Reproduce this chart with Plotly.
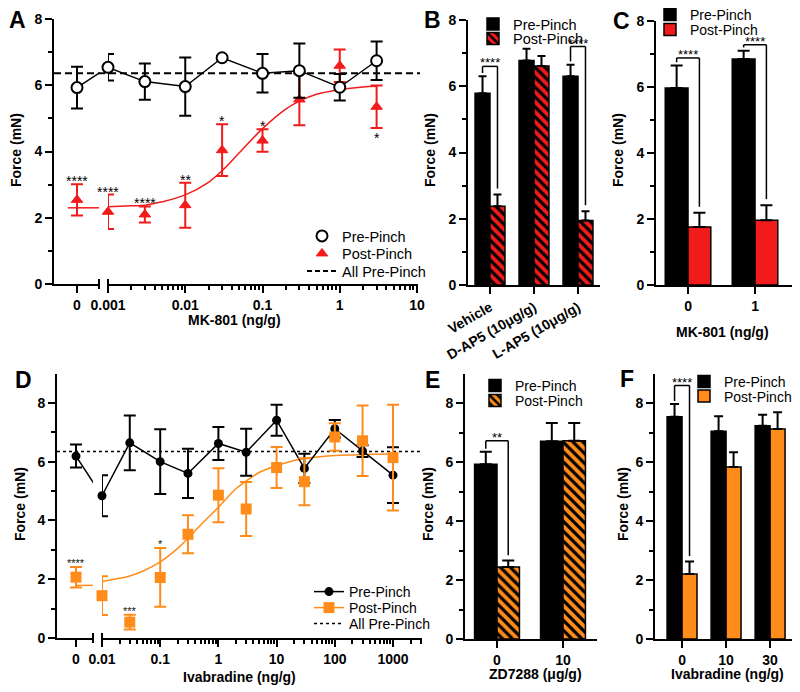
import numpy as np
import plotly.graph_objects as go

# the page body has an 8px margin: the figure is sized and placed to sit in the window
OFF = 8
W, H = 800 - OFF, 692 - OFF
FONT = "Liberation Sans, Arial, Helvetica, sans-serif"
RED = "#f21b1b"
ORANGE = "#ff8c1a"

# ---------------- data ----------------
# Panel A : MK-801 dose response (XY, log axis with a "0" segment)
a_doses = [0.001, 0.003, 0.01, 0.03, 0.1, 0.3, 1, 3]
a_pre_zero, a_pre_zero_err = 5.93, 0.63
a_pre = [6.54, 6.11, 5.96, 6.83, 6.36, 6.44, 5.94, 6.74]
a_pre_err = [0.40, 0.55, 0.88, 0.05, 0.58, 0.82, 0.40, 0.58]
a_post_zero, a_post_zero_err = 2.54, 0.47
a_post = [2.18, 2.10, 2.38, 4.04, 4.33, 5.57, 6.59, 5.35]
a_post_err = [0.52, 0.24, 0.68, 0.78, 0.34, 0.78, 0.49, 0.64]
a_fit_x = [0.001, 0.002, 0.003, 0.005, 0.01, 0.02, 0.03, 0.05, 0.1, 0.2, 0.3, 0.5, 1, 2, 3]
a_fit_y = [2.33, 2.36, 2.38, 2.48, 2.69, 3.07, 3.42, 3.96, 4.69, 5.28, 5.52, 5.73, 5.87, 5.95, 5.97]
a_fit_zero = 2.30
a_all_pre = 6.36
a_star_zero = "****"
a_stars = ["****", "****", "**", "*", "*", "", "", ""]
a_stars_below = ["", "", "", "", "", "", "", "*"]
a_ticks = [0.001, 0.01, 0.1, 1, 10]
a_ticktext = ["0.001", "0.01", "0.1", "1", "10"]

# Panel B : AP5 bars
b_cats = ["Vehicle", "D-AP5 (10\u03bcg/g)", "L-AP5 (10\u03bcg/g)"]
b_pre = [5.79, 6.78, 6.30]
b_pre_err = [0.51, 0.35, 0.35]
b_post = [2.38, 6.61, 1.95]
b_post_err = [0.35, 0.30, 0.28]
b_sig = ["****", "", "****"]

# Panel C : MK-801 bars
c_cats = ["0", "1"]
c_pre = [5.97, 6.85]
c_pre_err = [0.68, 0.25]
c_post = [1.76, 1.96]
c_post_err = [0.43, 0.46]
c_sig = ["****", "****"]

# Panel D : Ivabradine dose response
d_doses = [0.01, 0.03, 0.1, 0.3, 1, 3, 10, 30, 100, 300, 1000]
d_pre_zero, d_pre_zero_err = 6.19, 0.39
d_pre = [4.84, 6.64, 6.00, 5.60, 6.62, 6.32, 7.41, 5.77, 7.12, 6.36, 5.54]
d_pre_err = [0.70, 0.93, 1.10, 0.84, 0.56, 0.80, 0.53, 0.50, 0.30, 0.20, 0.95]
d_post_zero, d_post_zero_err = 2.07, 0.35
d_post = [1.44, 0.54, 2.06, 3.53, 4.86, 4.39, 5.80, 5.32, 6.84, 6.71, 6.14]
d_post_err = [0.66, 0.25, 1.00, 0.65, 0.92, 0.92, 0.70, 0.80, 0.47, 1.20, 1.80]
d_fit_x = [0.01, 0.02, 0.03, 0.05, 0.1, 0.2, 0.3, 0.5, 1, 2, 3, 5, 10, 20, 30, 50, 100, 200, 500, 1000]
d_fit_y = [1.92, 2.03, 2.11, 2.27, 2.59, 3.05, 3.39, 3.85, 4.45, 5.08, 5.34, 5.63, 5.86, 6.04, 6.11, 6.16, 6.21, 6.23, 6.25, 6.26]
d_fit_zero = 1.79
d_all_pre = 6.35
d_star_zero = "****"
d_stars = ["", "***", "*", "", "", "", "", "", "", "", ""]
d_ticks = [0.01, 0.1, 1, 10, 100, 1000]
d_ticktext = ["0.01", "0.1", "1", "10", "100", "1000"]

# Panel E : ZD7288 bars
e_cats = ["0", "10"]
e_pre = [5.92, 6.70]
e_pre_err = [0.43, 0.62]
e_post = [2.44, 6.72]
e_post_err = [0.22, 0.60]
e_sig = ["**", ""]

# Panel F : Ivabradine bars
f_cats = ["0", "10", "30"]
f_pre = [7.53, 7.04, 7.23]
f_pre_err = [0.44, 0.51, 0.37]
f_post = [2.20, 5.83, 7.12]
f_post_err = [0.43, 0.50, 0.57]
f_sig = ["****", "", ""]

# bracket heights above the pre-pinch error bar (style, per group)
b_bracket_gap = [0.30, 0.0, 0.55]
c_bracket_gap = [0.23, 0.18]
e_bracket_gap = [0.37, 0.0]
f_bracket_gap = [0.62, 0.0, 0.0]


# ---------------- helpers ----------------
def px_x(p):
    return (p - OFF) / W


def px_y(p):
    return 1 - (p - OFF) / H


TICKFONT = dict(family=FONT, size=14, color="black", weight="bold")
AX = dict(showline=True, linecolor="black", linewidth=2, ticks="outside", ticklen=7,
          tickwidth=2, tickcolor="black", showgrid=False, zeroline=False,
          tickfont=TICKFONT, fixedrange=True)


def yax(dom, rng, xanchor):
    return dict(AX, domain=[px_y(dom[0]), px_y(dom[1])], range=rng, anchor=xanchor,
                tickvals=[0, 2, 4, 6, 8],
                minor=dict(tickvals=[1, 3, 5, 7], ticks="outside", ticklen=4,
                           tickwidth=2, tickcolor="black"))


def minor_log(lo, hi):
    out = []
    for e in range(lo, hi):
        for m in range(2, 10):
            out.append(m * 10.0 ** e)
    return out


fig = go.Figure()
layout = {}
annotations = []
shapes = []

# ---- geometry (pixels in the window) ----
A_ZERO = (54, 99, 77)      # left, right, pos of "0"
A_LOG = (108, 418)
A_Y = (284, 19)
A_DEC = 77.25
D_ZERO = (57, 93, 76)
D_LOG = (102, 422)
D_Y = (638, 373.5)
D_DEC = 58.2


def zero_range(z, scale):
    return [(z[0] - z[2]) / scale, (z[1] - z[2]) / scale]


A_ZSCALE = 23.0
D_ZSCALE = 19.0
a_zr = zero_range(A_ZERO, A_ZSCALE)
d_zr = zero_range(D_ZERO, D_ZSCALE)
a_lr = [np.log10(a_doses[0]), np.log10(a_doses[0]) + (A_LOG[1] - A_LOG[0]) / A_DEC]
d_lr = [np.log10(d_doses[0]), np.log10(d_doses[0]) + (D_LOG[1] - D_LOG[0]) / D_DEC]

# ---------------- Panel A ----------------
layout["xaxis"] = dict(AX, domain=[px_x(A_ZERO[0]), px_x(A_ZERO[1])], range=a_zr,
                       tickvals=[0], ticktext=["0"], anchor="y")
layout["xaxis2"] = dict(AX, domain=[px_x(A_LOG[0]), px_x(A_LOG[1])], type="log", range=a_lr,
                        tickvals=a_ticks, ticktext=a_ticktext, anchor="y",
                        minor=dict(tickvals=minor_log(-3, 1), ticks="outside", ticklen=4,
                                   tickwidth=1.5, tickcolor="black"))
layout["yaxis"] = yax(A_Y, [0, 8], "x")

a_virtual = (A_LOG[0] - A_ZERO[2]) / A_ZSCALE
fig.add_trace(go.Scatter(x=[0, a_virtual], y=[a_pre_zero, a_pre[0]], mode="lines",
                         line=dict(color="black", width=1.5), xaxis="x", yaxis="y",
                         showlegend=False, hoverinfo="skip"))
fig.add_trace(go.Scatter(x=a_fit_x, y=a_fit_y, mode="lines",
                         line=dict(color=RED, width=1.5, shape="spline"),
                         xaxis="x2", yaxis="y", showlegend=False, hoverinfo="skip"))
fig.add_trace(go.Scatter(x=[-0.4, a_zr[1]], y=[a_fit_zero, a_fit_zero], mode="lines",
                         line=dict(color=RED, width=1.5), xaxis="x", yaxis="y",
                         showlegend=False, hoverinfo="skip"))
a_post_m = dict(symbol="triangle-up", size=10, color=RED, line=dict(color=RED, width=1))
fig.add_trace(go.Scatter(x=a_doses, y=a_post, mode="markers", marker=a_post_m, cliponaxis=False,
                         error_y=dict(type="data", array=a_post_err, color=RED, thickness=2, width=6),
                         xaxis="x2", yaxis="y", showlegend=False))
fig.add_trace(go.Scatter(x=[0], y=[a_post_zero], mode="markers", marker=a_post_m, cliponaxis=False,
                         error_y=dict(type="data", array=[a_post_zero_err], color=RED, thickness=2, width=6),
                         xaxis="x", yaxis="y", showlegend=False))
a_pre_m = dict(symbol="circle", size=11, color="white", line=dict(color="black", width=2))
fig.add_trace(go.Scatter(x=a_doses, y=a_pre, mode="lines+markers", marker=a_pre_m, cliponaxis=False,
                         line=dict(color="black", width=1.5),
                         error_y=dict(type="data", array=a_pre_err, color="black", thickness=2, width=6),
                         xaxis="x2", yaxis="y", showlegend=False))
fig.add_trace(go.Scatter(x=[0], y=[a_pre_zero], mode="markers", marker=a_pre_m, cliponaxis=False,
                         error_y=dict(type="data", array=[a_pre_zero_err], color="black", thickness=2, width=6),
                         xaxis="x", yaxis="y", showlegend=False))
shapes.append(dict(type="line", xref="paper", yref="y", x0=px_x(A_ZERO[0]), x1=px_x(420),
                   y0=a_all_pre, y1=a_all_pre, line=dict(color="black", width=2, dash="7px,4px"),
                   layer="below"))

# ---------------- Panel D ----------------
layout["xaxis5"] = dict(AX, domain=[px_x(D_ZERO[0]), px_x(D_ZERO[1])], range=d_zr,
                        tickvals=[0], ticktext=["0"], anchor="y4")
layout["xaxis6"] = dict(AX, domain=[px_x(D_LOG[0]), px_x(D_LOG[1])], type="log", range=d_lr,
                        tickvals=d_ticks, ticktext=d_ticktext, anchor="y4",
                        minor=dict(tickvals=minor_log(-2, 4), ticks="outside", ticklen=4,
                                   tickwidth=1.5, tickcolor="black"))
layout["yaxis4"] = yax(D_Y, [0, 9], "x5")

d_virtual = (D_LOG[0] - D_ZERO[2]) / D_ZSCALE
fig.add_trace(go.Scatter(x=[0, d_virtual], y=[d_pre_zero, d_pre[0]], mode="lines",
                         line=dict(color="black", width=1.5), xaxis="x5", yaxis="y4",
                         showlegend=False, hoverinfo="skip"))
fig.add_trace(go.Scatter(x=d_fit_x, y=d_fit_y, mode="lines",
                         line=dict(color=ORANGE, width=1.5, shape="spline"),
                         xaxis="x6", yaxis="y4", showlegend=False, hoverinfo="skip"))
fig.add_trace(go.Scatter(x=[0, d_zr[1]], y=[d_fit_zero, d_fit_zero], mode="lines",
                         line=dict(color=ORANGE, width=1.5), xaxis="x5", yaxis="y4",
                         showlegend=False, hoverinfo="skip"))
d_pre_m = dict(symbol="circle", size=9, color="black")
fig.add_trace(go.Scatter(x=d_doses, y=d_pre, mode="lines+markers", marker=d_pre_m, cliponaxis=False,
                         line=dict(color="black", width=1.5),
                         error_y=dict(type="data", array=d_pre_err, color="black", thickness=2, width=6),
                         xaxis="x6", yaxis="y4", showlegend=False))
fig.add_trace(go.Scatter(x=[0], y=[d_pre_zero], mode="markers", marker=d_pre_m, cliponaxis=False,
                         error_y=dict(type="data", array=[d_pre_zero_err], color="black", thickness=2, width=6),
                         xaxis="x5", yaxis="y4", showlegend=False))
d_post_m = dict(symbol="square", size=11, color=ORANGE)
fig.add_trace(go.Scatter(x=d_doses, y=d_post, mode="markers", marker=d_post_m, cliponaxis=False,
                         error_y=dict(type="data", array=d_post_err, color=ORANGE, thickness=2, width=6),
                         xaxis="x6", yaxis="y4", showlegend=False))
fig.add_trace(go.Scatter(x=[0], y=[d_post_zero], mode="markers", marker=d_post_m, cliponaxis=False,
                         error_y=dict(type="data", array=[d_post_zero_err], color=ORANGE, thickness=2, width=6),
                         xaxis="x5", yaxis="y4", showlegend=False))
shapes.append(dict(type="line", xref="paper", yref="y4", x0=px_x(D_ZERO[0]), x1=px_x(422),
                   y0=d_all_pre, y1=d_all_pre, line=dict(color="black", width=1.5, dash="3px,3px"),
                   layer="below"))

# break markers on the XY x-axes
for zero, log, ybot in [(A_ZERO, A_LOG, A_Y[0]), (D_ZERO, D_LOG, D_Y[0])]:
    for xp in (zero[1], log[0]):
        shapes.append(dict(type="line", xref="paper", yref="paper", x0=px_x(xp), x1=px_x(xp),
                           y0=px_y(ybot + 5), y1=px_y(ybot - 5), line=dict(color="black", width=2)))

# ---------------- bar panels ----------------
BAR_LINE = dict(color="black", width=1.5)


def stripes(color):
    return dict(shape="\\", fgcolor="black", bgcolor=color, size=7, solidity=0.45, fillmode="replace")


bar_panels = [
    ("3", "2", b_cats, b_pre, b_pre_err, b_post, b_post_err, RED, True, (468, 600), [-0.5, 2.5],
     (285, 20), [0, 8], 4, b_sig, b_bracket_gap, ("legend4", "legend5")),
    ("4", "3", c_cats, c_pre, c_pre_err, c_post, c_post_err, RED, False, (656, 793), [-0.478, 1.567],
     (285, 21), [0, 8], 6, c_sig, c_bracket_gap, ("legend6", "legend7")),
    ("7", "5", e_cats, e_pre, e_pre_err, e_post, e_post_err, ORANGE, True, (465, 597), [-0.485, 1.515],
     (639, 373.5), [0, 9], 6, e_sig, e_bracket_gap, ("legend11", "legend12")),
    ("8", "6", f_cats, f_pre, f_pre_err, f_post, f_post_err, ORANGE, False, (655, 793), [-0.614, 2.52],
     (639, 373.5), [0, 9], 4.5, f_sig, f_bracket_gap, ("legend13", "legend14")),
]
for (xk, yk, cats, pre, pre_e, post, post_e, col, striped, xd, xr, yd, yr, cap, sig, gaps, lgs) in bar_panels:
    xa, ya = "x" + xk, "y" + yk
    layout["xaxis" + xk] = dict(AX, domain=[px_x(xd[0]), px_x(xd[1])], range=xr,
                                type="category", anchor=ya)
    layout["yaxis" + yk] = yax(yd, yr, xa)
    fig.add_trace(go.Bar(x=cats, y=pre, name="Pre-Pinch", marker=dict(color="black", line=BAR_LINE),
                         error_y=dict(type="data", array=pre_e, arrayminus=[0] * len(pre), symmetric=False,
                                      color="black", thickness=2, width=cap),
                         xaxis=xa, yaxis=ya, legend=lgs[0]))
    pm = dict(color=col, line=BAR_LINE)
    if striped:
        pm["pattern"] = stripes(col)
    fig.add_trace(go.Bar(x=cats, y=post, name="Post-Pinch", marker=pm,
                         error_y=dict(type="data", array=post_e, arrayminus=[0] * len(post), symmetric=False,
                                      color="black", thickness=2, width=cap),
                         xaxis=xa, yaxis=ya, legend=lgs[1]))
    # significance brackets
    for g, s in enumerate(sig):
        if not s:
            continue
        ptop = pre[g] + pre_e[g]
        qtop = post[g] + post_e[g]
        top = ptop + gaps[g]
        xl, xr2 = g - 0.17, g + 0.17
        ln = dict(color="black", width=1.5)
        shapes.append(dict(type="line", xref=xa, yref=ya, x0=xl, x1=xr2, y0=top, y1=top, line=ln))
        shapes.append(dict(type="line", xref=xa, yref=ya, x0=xl, x1=xl, y0=top, y1=ptop + 0.1, line=ln))
        shapes.append(dict(type="line", xref=xa, yref=ya, x0=xr2, x1=xr2, y0=top, y1=qtop + 0.18, line=ln))
        annotations.append(dict(x=g, y=top, xref=xa, yref=ya, text=s, showarrow=False,
                                yanchor="bottom", yshift=-6,
                                font=dict(family=FONT, size=13, color="black")))

layout["xaxis3"]["tickangle"] = -30


# ---------------- legends (one entry each for exact spacing) ----------------
def add_legend(key, sym_x, row_y, size):
    layout[key] = dict(x=px_x(sym_x - 23), y=px_y(row_y), xanchor="left", yanchor="middle",
                       bgcolor="rgba(0,0,0,0)", borderwidth=0, itemclick=False, itemdoubleclick=False,
                       font=dict(family=FONT, size=size, color="black"))


def dummy(name, legend, xa, ya, **kw):
    fig.add_trace(go.Scatter(x=[None], y=[None], name=name, legend=legend, xaxis=xa, yaxis=ya,
                             showlegend=True, **kw))


# A
add_legend("legend", 325, 236, 14.5)
add_legend("legend2", 325, 253.5, 14.5)
add_legend("legend3", 325, 271, 14.5)
dummy("Pre-Pinch", "legend", "x2", "y", mode="markers", marker=a_pre_m)
dummy("Post-Pinch", "legend2", "x2", "y", mode="markers", marker=a_post_m)
dummy("All Pre-Pinch", "legend3", "x2", "y", mode="lines", line=dict(color="black", width=2, dash="5px,3px"))
# B
add_legend("legend4", 496, 24, 14.5)
add_legend("legend5", 496, 38.5, 14.5)
# C
add_legend("legend6", 673, 15, 14)
add_legend("legend7", 673, 30, 14)
# D
add_legend("legend8", 332, 592, 14)
add_legend("legend9", 332, 608, 14)
add_legend("legend10", 332, 624, 14)
dummy("Pre-Pinch", "legend8", "x6", "y4", mode="lines+markers", marker=d_pre_m,
      line=dict(color="black", width=1.5))
dummy("Post-Pinch", "legend9", "x6", "y4", mode="lines+markers", marker=d_post_m,
      line=dict(color=ORANGE, width=1.5))
dummy("All Pre-Pinch", "legend10", "x6", "y4", mode="lines",
      line=dict(color="black", width=1.5, dash="3px,3px"))
# E
add_legend("legend11", 498, 386, 14)
add_legend("legend12", 498, 401, 14)
# F
add_legend("legend13", 707, 382, 14)
add_legend("legend14", 707, 396.5, 14)

# ---------------- asterisks on XY panels ----------------
STAR_A = dict(family=FONT, size=14, color="black")
STAR_D = dict(family=FONT, size=11, color="#111111")
annotations.append(dict(x=0, y=a_post_zero + a_post_zero_err, xref="x", yref="y", text=a_star_zero,
                        showarrow=False, yanchor="bottom", yshift=-7, font=STAR_A))
for d, v, e, s, sb in zip(a_doses, a_post, a_post_err, a_stars, a_stars_below):
    if s:
        annotations.append(dict(x=np.log10(d), y=v + e, xref="x2", yref="y", text=s, showarrow=False,
                                yanchor="bottom", yshift=-7, font=STAR_A))
    if sb:
        annotations.append(dict(x=np.log10(d), y=v - e, xref="x2", yref="y", text=sb, showarrow=False,
                                yanchor="top", yshift=0, font=STAR_A))
annotations.append(dict(x=0, y=d_post_zero + d_post_zero_err, xref="x5", yref="y4", text=d_star_zero,
                        showarrow=False, yanchor="bottom", yshift=-4, font=STAR_D))
for d, v, e, s in zip(d_doses, d_post, d_post_err, d_stars):
    if s:
        annotations.append(dict(x=np.log10(d), y=v + e, xref="x6", yref="y4", text=s, showarrow=False,
                                yanchor="bottom", yshift=-4, font=STAR_D))

# ---------------- titles & panel letters ----------------
TITLE = dict(family=FONT, size=14, color="black", weight="bold")
for (xp, yp, txt, ang) in [
    (16, 150, "Force (mN)", -90), (430, 150, "Force (mN)", -90), (618, 150, "Force (mN)", -90),
    (20, 504, "Force (mN)", -90), (428, 504, "Force (mN)", -90), (623, 504, "Force (mN)", -90),
    (234, 320, "MK-801 (ng/g)", 0), (722, 332, "MK-801 (ng/g)", 0),
    (239, 677, "Ivabradine (ng/g)", 0), (535, 674, "ZD7288 (\u03bcg/g)", 0),
    (727, 674, "Ivabradine (ng/g)", 0),
]:
    annotations.append(dict(x=px_x(xp), y=px_y(yp), xref="paper", yref="paper", text=txt,
                            textangle=ang, showarrow=False, xanchor="center", yanchor="middle",
                            font=TITLE))
LETTER = dict(family=FONT, size=23, color="black", weight="bold")
for (xp, yp, txt) in [(17, 20, "A"), (432, 20, "B"), (621, 21, "C"),
                      (23, 380, "D"), (432, 380, "E"), (627, 379, "F")]:
    annotations.append(dict(x=px_x(xp), y=px_y(yp), xref="paper", yref="paper", text=txt,
                            showarrow=False, xanchor="center", yanchor="middle", font=LETTER))

fig.update_layout(
    width=W, height=H, margin=dict(l=0, r=0, t=0, b=0, autoexpand=False),
    paper_bgcolor="white", plot_bgcolor="rgba(0,0,0,0)",
    barmode="group", bargap=0.32, bargroupgap=0,
    font=dict(family=FONT, size=14, color="black"),
    annotations=annotations, shapes=shapes, hovermode=False,
    **layout,
)
fig.write_html("out.html")
